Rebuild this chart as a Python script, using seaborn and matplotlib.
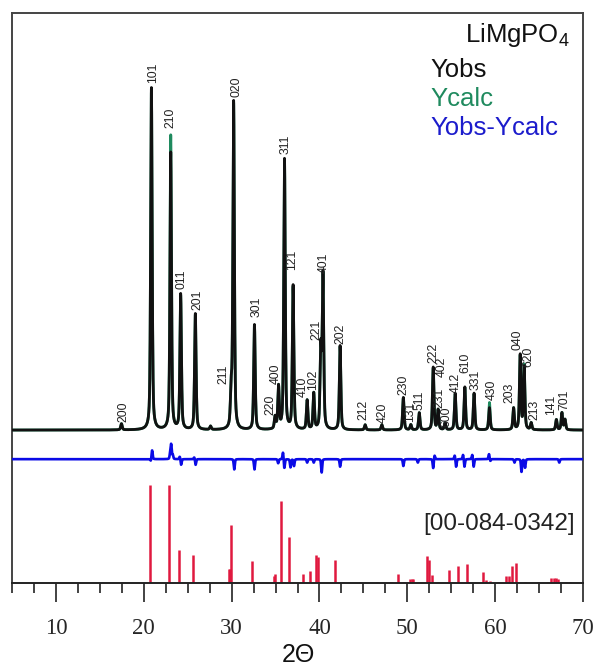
import numpy as np
import pandas as pd
import matplotlib
matplotlib.use("Agg")
import matplotlib.pyplot as plt
from matplotlib.ticker import MultipleLocator
import seaborn as sns

# ---------------------------------------------------------------------------
# Observed / calculated reflections of LiMgPO4 (2θ in degrees, intensity in %)
# ---------------------------------------------------------------------------
peak_pos = [17.46, 20.87, 23.07, 24.20, 25.87, 27.60, 29.95, 30.23, 32.60,
            34.95, 35.34, 36.02, 37.00, 38.60, 39.35, 40.15, 40.40, 42.35,
            45.20, 47.10, 49.55, 50.40, 51.36, 52.95, 53.50, 54.30, 55.45,
            56.55, 57.60, 59.35, 62.10, 62.85, 63.30, 64.10, 66.97, 67.60,
            67.95]
obs_int = [1.8, 100.0, 81.0, 39.5, 33.9, 1.0, 10.0, 95.7, 30.7,
           3.5, 12.3, 79.0, 42.0, 8.5, 10.5, 23.0, 44.8, 24.6,
           1.5, 1.5, 9.5, 1.5, 5.0, 18.3, 5.8, 2.0, 10.7,
           12.5, 10.7, 6.5, 6.3, 21.8, 18.3, 2.0, 3.0, 5.0,
           3.0]
calc_int = [1.8, 99.0, 86.0, 39.0, 33.5, 1.0, 10.0, 95.0, 30.5,
            3.5, 12.3, 78.5, 41.5, 8.5, 10.5, 23.0, 44.5, 24.3,
            1.5, 1.5, 9.3, 1.5, 5.0, 18.0, 5.8, 2.0, 10.5,
            12.3, 10.5, 8.0, 6.3, 21.5, 18.8, 2.0, 3.0, 5.0,
            3.0]

# Features of the difference curve Yobs - Ycalc
diff_pos = [20.80, 20.95, 23.00, 23.12, 23.30, 24.10, 24.25, 25.75, 25.90,
            30.30, 32.60, 35.30, 35.85, 36.00, 36.70, 37.10, 38.60, 39.35,
            40.25, 42.35, 49.55, 51.20, 52.95, 53.10, 55.40, 55.55, 56.35,
            56.50, 57.40, 57.55, 59.30, 59.45, 62.20, 63.00, 63.40, 67.30]
diff_amp = [-0.6, 2.6, 1.5, 4.2, 1.2, 0.8, -1.7, 0.6, -1.7,
            -3.0, -3.0, -1.2, 2.1, -2.7, -2.4, -2.0, -1.0, -1.0,
            -3.9, -2.2, -2.0, -1.0, -2.7, 1.2, 1.2, -2.3, 1.4,
            -2.3, 1.4, -2.3, 1.5, -0.6, -1.0, -3.7, -2.5, -1.0]

# Miller indices of the indexed reflections and where their labels sit
hkl_labels = ["200", "101", "210", "011", "201", "211", "020", "301", "220",
              "400", "311", "121", "410", "102", "221", "401", "202", "212",
              "420", "230", "131", "511", "222", "402", "231", "600", "412",
              "610", "331", "430", "203", "040", "620", "213", "141", "701"]
hkl_x = [17.73, 21.06, 23.03, 24.35, 26.06, 29.10, 30.50, 32.80, 34.40,
         34.97, 36.17, 36.93, 38.10, 39.30, 39.70, 40.45, 42.40, 45.00,
         47.20, 49.55, 50.30, 51.44, 52.95, 53.90, 53.70, 54.40, 55.50,
         56.60, 57.76, 59.58, 61.67, 62.60, 63.75, 64.50, 66.40, 67.90]
hkl_y = [2.4, 101.4, 88.2, 41.1, 35.1, 13.6, 97.3, 33.0, 4.4,
         13.6, 80.6, 46.8, 9.7, 11.7, 26.3, 45.9, 25.3, 2.9,
         2.0, 10.2, 2.3, 5.8, 19.6, 15.5, 6.4, 0.9, 10.8,
         16.7, 11.7, 8.8, 7.9, 23.4, 18.4, 2.9, 4.4, 5.8]

# Reference card [00-084-0342] line positions and relative intensities
ref_pos = [17.50, 20.72, 22.92, 23.98, 25.60, 29.70, 29.78, 29.89, 32.31,
           34.77, 34.97, 35.65, 36.56, 38.10, 38.94, 39.62, 39.89, 41.82,
           42.73, 44.62, 46.50, 48.20, 48.90, 49.66, 50.30, 50.50, 50.70,
           52.27, 52.47, 52.84, 53.44, 54.77, 55.72, 56.82, 58.56, 59.01,
           59.47, 60.34, 61.28, 61.59, 61.97, 62.42, 63.44, 64.89, 66.02,
           66.40, 66.65, 66.90, 67.15, 68.10, 68.50]
ref_int = [1.0, 100.0, 100.0, 33.7, 28.6, 14.3, 14.3, 59.2, 22.4,
           7.1, 9.2, 83.7, 47.3, 9.2, 12.6, 28.9, 26.2, 23.8,
           1.5, 1.5, 1.0, 1.0, 9.2, 1.5, 4.0, 4.0, 4.0,
           27.9, 23.0, 8.5, 1.0, 13.6, 17.0, 19.7, 11.2, 3.0,
           2.0, 1.0, 6.8, 6.8, 17.0, 20.4, 1.0, 1.0, 1.5,
           5.0, 5.0, 5.0, 4.5, 1.5, 1.5]

# ---------------------------------------------------------------------------
# Profiles
# ---------------------------------------------------------------------------
two_theta = np.linspace(5, 70, 6501)


def pseudo_voigt(x, centres, heights, fwhm, eta=0.5):
    x = x[:, None]
    c = np.asarray(centres)[None, :]
    h = np.asarray(heights)[None, :]
    half = fwhm / 2.0
    lor = 1.0 / (1.0 + ((x - c) / half) ** 2)
    gau = np.exp(-np.log(2) * ((x - c) / half) ** 2)
    return (h * (eta * lor + (1 - eta) * gau)).sum(axis=1)


y_obs = pseudo_voigt(two_theta, peak_pos, obs_int, 0.20)
y_calc = pseudo_voigt(two_theta, peak_pos, calc_int, 0.20)
diff_offset = -8.5
y_diff = diff_offset + pseudo_voigt(two_theta, diff_pos, diff_amp, 0.14, eta=0.3)

df = pd.DataFrame({"two_theta": two_theta, "obs": y_obs,
                   "calc": y_calc, "diff": y_diff})

# ---------------------------------------------------------------------------
# Figure
# ---------------------------------------------------------------------------
sns.set_style("white")
plt.rcParams["font.family"] = ["Liberation Sans", "DejaVu Sans"]
plt.rcParams["mathtext.fontset"] = "custom"
plt.rcParams["mathtext.rm"] = "Liberation Sans"

W, H = 598, 666
fig = plt.figure(figsize=(W / 100, H / 100), dpi=100)
ax = fig.add_axes([12 / W, 1 - 583 / H, (583 - 12) / W, (583 - 13) / H])

col_obs = "#111111"
col_calc = "#1f8a5e"
col_diff = "#0a0ae6"
col_ref = "#e0193f"

sns.lineplot(data=df, x="two_theta", y="calc", ax=ax, color=col_calc,
             lw=2.0, estimator=None, sort=False, zorder=2)
sns.lineplot(data=df, x="two_theta", y="obs", ax=ax, color=col_obs,
             lw=2.0, estimator=None, sort=False, zorder=3)
sns.lineplot(data=df, x="two_theta", y="diff", ax=ax, color=col_diff,
             lw=1.9, estimator=None, sort=False, zorder=3)

# reference stick pattern along the bottom of the frame
ref_base = -44.7
ref_scale = 0.2865
ax.vlines(ref_pos, ref_base, ref_base + np.asarray(ref_int) * ref_scale,
          color=col_ref, lw=1.8, zorder=2)

for lab, x, y in zip(hkl_labels, hkl_x, hkl_y):
    ax.text(x, y, lab, rotation=90, ha="center", va="bottom",
            fontsize=8.8, color="#222222")

ax.set_xlim(5, 70)
ax.set_ylim(ref_base, 121.9)
ax.set_yticks([])
ax.set_ylabel("")
ax.set_xlabel("")
ax.xaxis.set_major_locator(MultipleLocator(10))
ax.xaxis.set_minor_locator(MultipleLocator(2.5))
ax.tick_params(axis="x", which="major", direction="out", length=14,
               width=1.2, color="#222222", pad=11, labelsize=16.5)
ax.tick_params(axis="x", which="minor", direction="out", length=7,
               width=1.2, color="#222222")
ax.tick_params(axis="x", which="both", bottom=True)
for t in ax.get_xticklabels():
    t.set_fontfamily("Liberation Serif")

for side in ("left", "top", "right"):
    ax.spines[side].set_color("#444444")
    ax.spines[side].set_linewidth(1.4)
ax.spines["bottom"].set_color("#222222")
ax.spines["bottom"].set_linewidth(1.4)

# title block and legend text
fig.text(570 / W, 1 - 42 / H, r"LiMgPO$_\mathregular{4}$", ha="right",
         va="baseline", fontsize=18.5, color="#111111")
fig.text(430 / W, 1 - 77 / H, "Yobs", ha="left", va="baseline",
         fontsize=18.5, color="#111111")
fig.text(430 / W, 1 - 106 / H, "Ycalc", ha="left", va="baseline",
         fontsize=18.5, color=col_calc)
fig.text(430 / W, 1 - 135 / H, "Yobs-Ycalc", ha="left", va="baseline",
         fontsize=18.5, color="#1c1ccc")
fig.text(575 / W, 1 - 530 / H, "[00-084-0342]", ha="right", va="baseline",
         fontsize=17.5, color="#222222")

fig.text(298 / W, 1 - 643 / H, "2Θ", ha="center", va="top",
         fontsize=18, color="#111111")

fig.savefig("out.png", dpi=100, facecolor="white")
